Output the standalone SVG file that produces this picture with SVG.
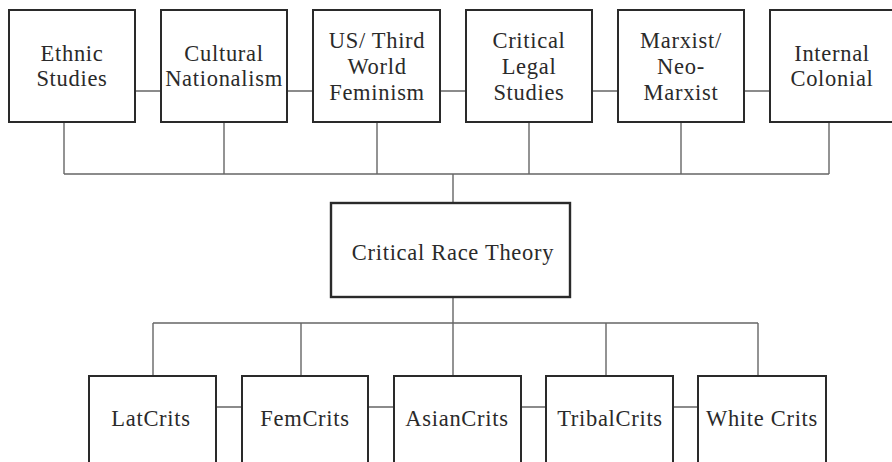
<svg xmlns="http://www.w3.org/2000/svg" width="892" height="462" viewBox="0 0 892 462">
<style>
.box{fill:#fff;stroke:#2a2a2a;stroke-width:2}
.crt{fill:#fff;stroke:#2a2a2a;stroke-width:2.4}
.con{fill:none;stroke:#666;stroke-width:1.4}
text{font-family:"Liberation Serif","Times New Roman",serif;font-size:22.5px;fill:#2a2a2a;text-anchor:middle;letter-spacing:0.7px}
</style>
<rect width="892" height="462" fill="#fff"/>
<g id="connectors">
<path class="con" d="M135 91H161M287 91H313M440 91H466M592 91H618M744 91H770"/>
<path class="con" d="M64 122V174M224 122V174M377 122V174M529 122V174M681 122V174M829 122V174M64 174H829M453 174V203"/>
<path class="con" d="M453 297V376M153 323H758M153 323V376M301 323V376M606 323V376M758 323V376"/>
<path class="con" d="M216 407H242M368 407H394M521 407H546M673 407H698"/>
</g>
<g id="n-ethnic"><rect class="box" x="9" y="10" width="126" height="112"/><text x="72" y="61">Ethnic</text><text x="72" y="86">Studies</text></g>
<g id="n-cultural"><rect class="box" x="161" y="10" width="126" height="112"/><text x="224" y="61">Cultural</text><text x="224" y="86">Nationalism</text></g>
<g id="n-us"><rect class="box" x="313" y="10" width="127" height="112"/><text x="377" y="48">US/ Third</text><text x="377" y="74">World</text><text x="377" y="100">Feminism</text></g>
<g id="n-cls"><rect class="box" x="466" y="10" width="126" height="112"/><text x="529" y="48">Critical</text><text x="529" y="74">Legal</text><text x="529" y="100">Studies</text></g>
<g id="n-marx"><rect class="box" x="618" y="10" width="126" height="112"/><text x="681" y="48">Marxist/</text><text x="681" y="74">Neo-</text><text x="681" y="100">Marxist</text></g>
<g id="n-internal"><rect class="box" x="770" y="10" width="126" height="112"/><text x="832" y="61">Internal</text><text x="832" y="86">Colonial</text></g>
<g id="n-crt"><rect class="crt" x="331" y="203" width="239" height="94"/><text x="453" y="260">Critical Race Theory</text></g>
<g id="n-lat"><rect class="box" x="89" y="376" width="127" height="100"/><text x="151" y="426">LatCrits</text></g>
<g id="n-fem"><rect class="box" x="242" y="376" width="126" height="100"/><text x="305" y="426">FemCrits</text></g>
<g id="n-asian"><rect class="box" x="394" y="376" width="127" height="100"/><text x="457" y="426">AsianCrits</text></g>
<g id="n-tribal"><rect class="box" x="546" y="376" width="127" height="100"/><text x="610" y="426">TribalCrits</text></g>
<g id="n-white"><rect class="box" x="698" y="376" width="128" height="100"/><text x="762" y="426">White Crits</text></g>
</svg>
